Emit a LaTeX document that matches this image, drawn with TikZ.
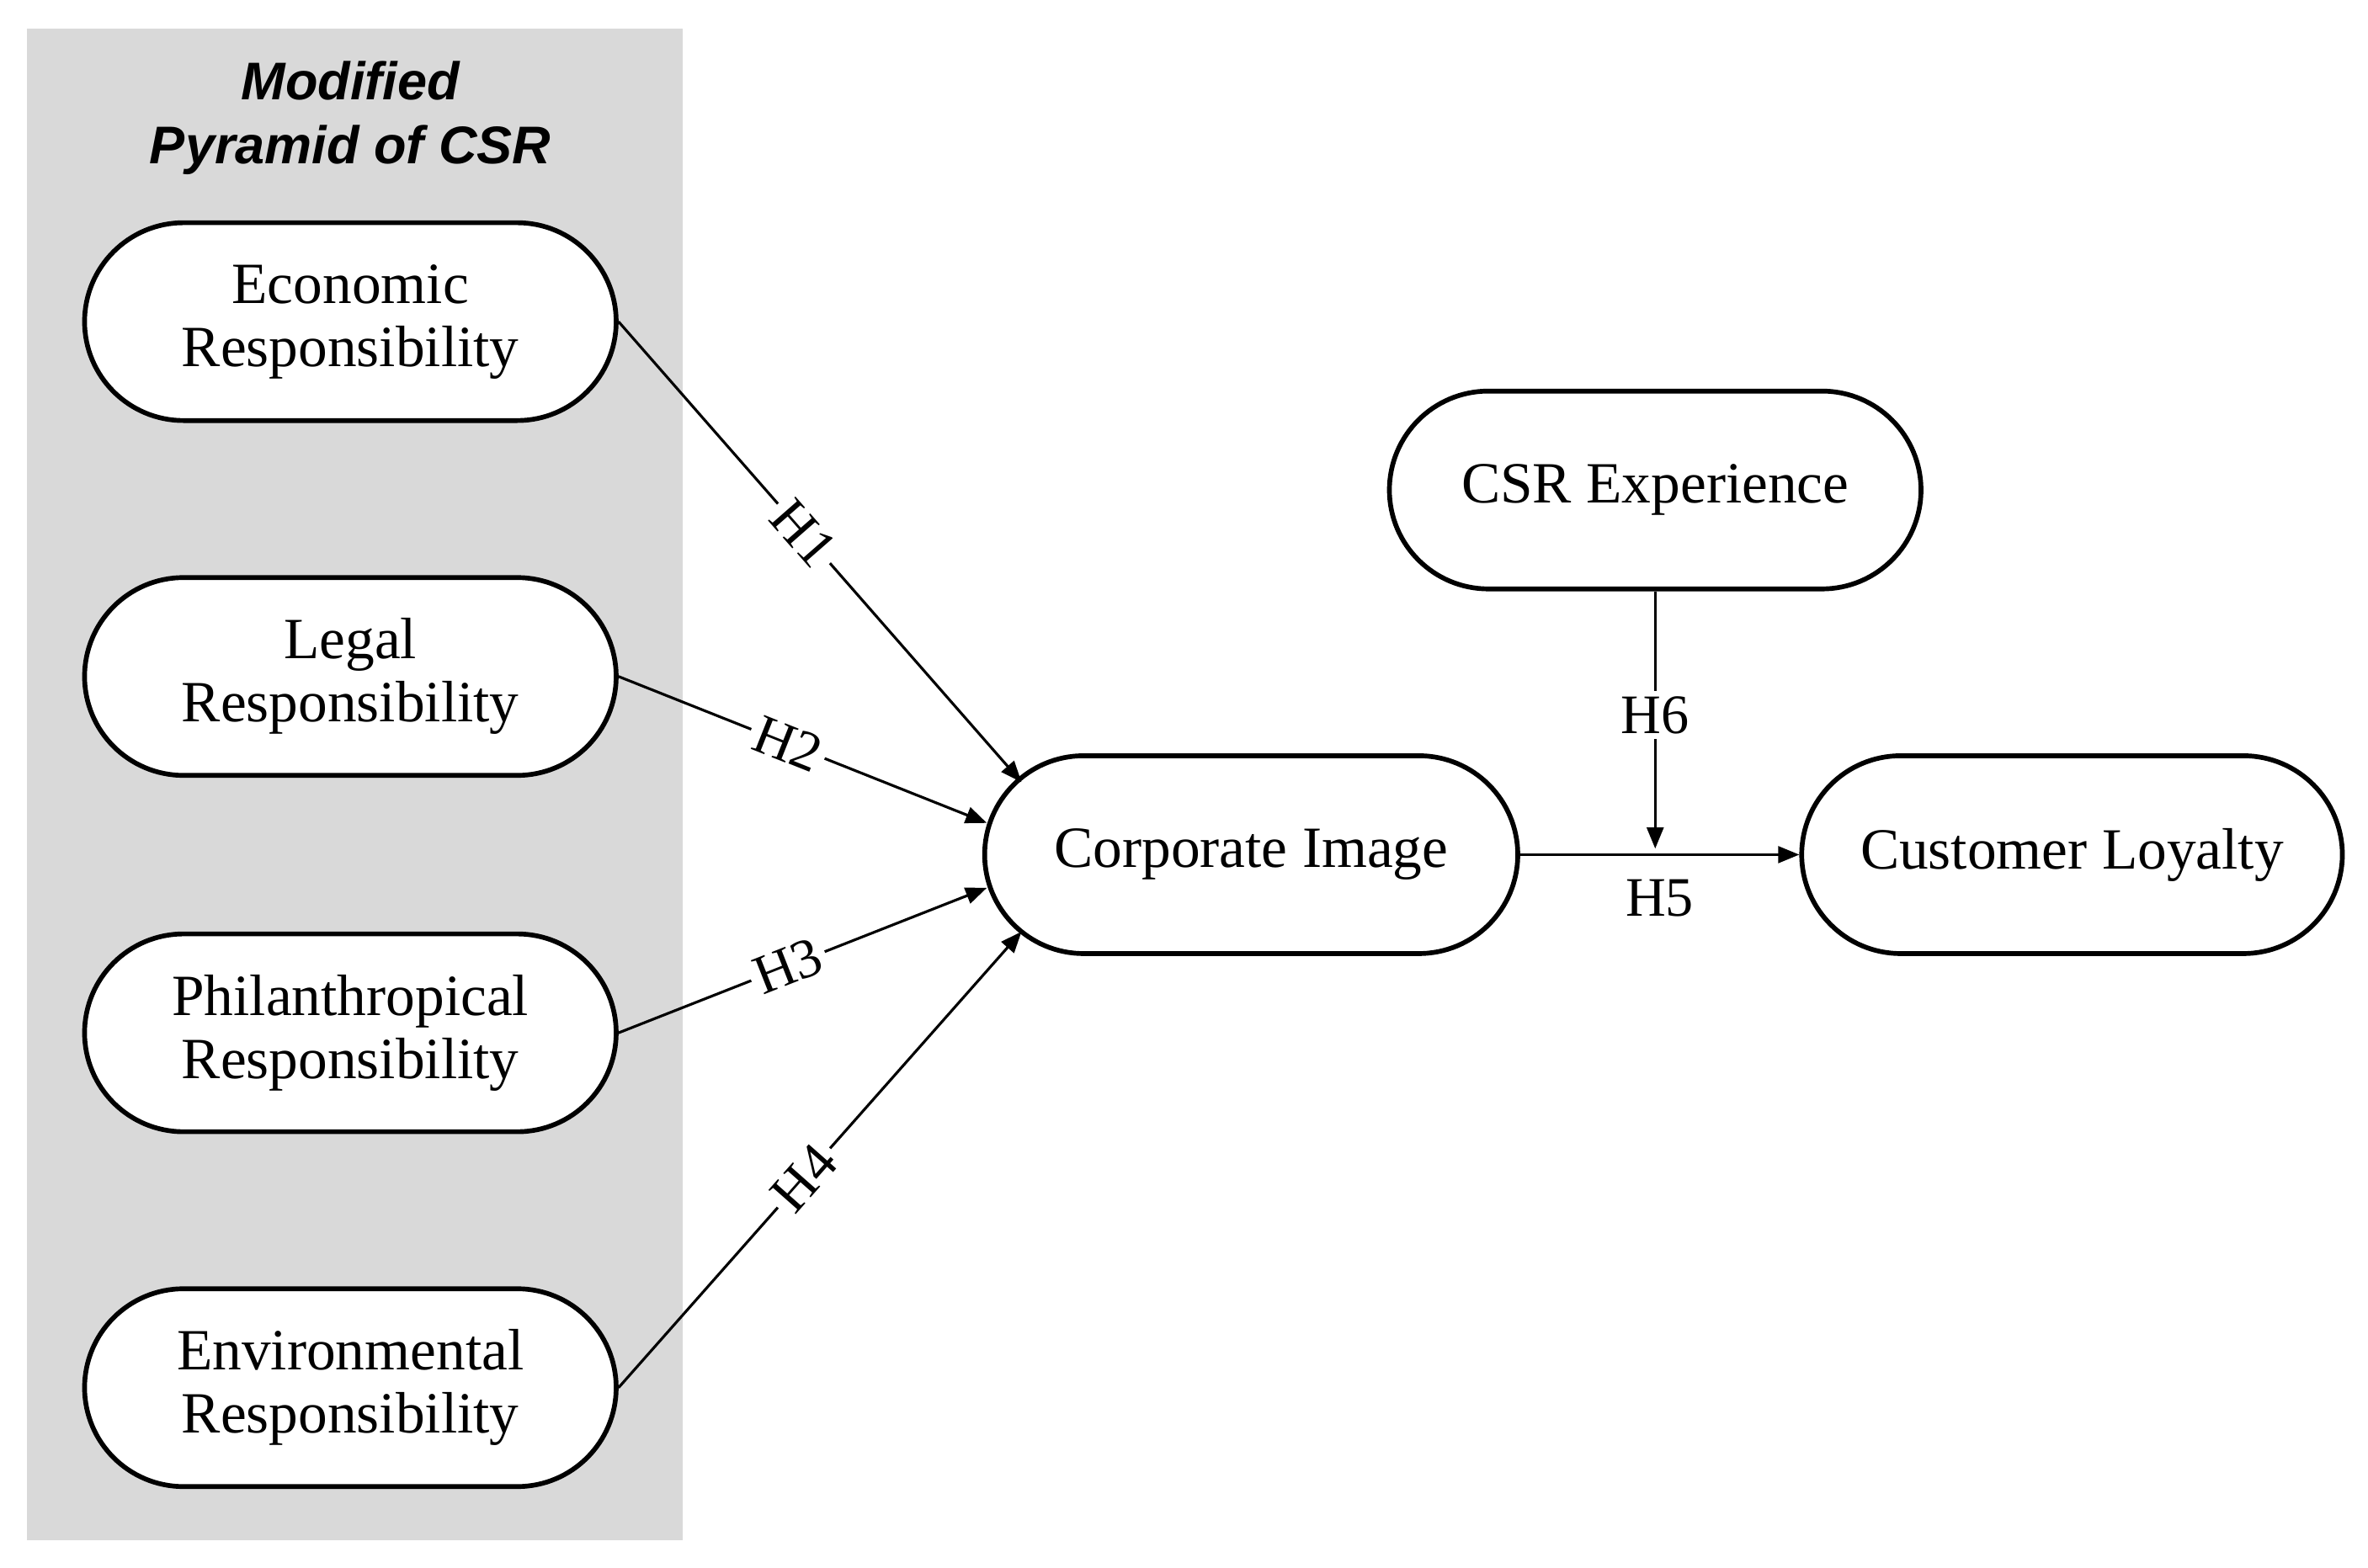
\documentclass[tikz,border=0pt]{standalone}
\usepackage{fontspec}
\setmainfont{Liberation Serif}
\setsansfont{Liberation Sans}
\usetikzlibrary{shapes.misc,arrows.meta,positioning,calc}
\definecolor{panelgray}{RGB}{217,217,217}
\tikzset{construct/.style={rounded rectangle,draw,line width=0.9pt,fill=white,
   minimum width=3.52cm,minimum height=1.31cm,inner sep=0pt,align=center,
   font=\fontsize{11}{11.9}\selectfont},
 path arrow/.style={-{Triangle[length=1.4mm,width=1.1mm]},line width=0.5pt},
 hyp/.style={fill=white,inner sep=1pt,font=\fontsize{10.5}{12.4}\selectfont},
 }

\begin{document}
\begin{tikzpicture}
        \useasboundingbox (0,0) rectangle (15.68,-10.38);
        % grey panel with the four responsibilities
        \fill[panelgray] (0.18,-0.19) rectangle (4.52,-10.20);
        \node[align=center,font=\fontsize{10}{12}\selectfont\sffamily\bfseries\itshape] (title) at (2.32,-0.78) {Modified\\Pyramid of CSR};
        \foreach \name/\y/\txt in {eco/2.13/Economic, leg/4.48/Legal, phi/6.84/Philanthropical, env/9.19/Environmental} {
            \node[construct] (\name) at (2.32,-\y) {\txt\\Responsibility};
        }
        \node[construct,minimum width=3.53cm] (ci) at (8.285,-5.66) {Corporate Image};
        \node[construct] (csr) at (10.96,-3.245) {CSR Experience};
        \node[construct,minimum width=3.58cm] (cl) at (13.72,-5.66) {Customer Loyalty};
        % hypotheses H1--H4
        \foreach \src/\dx/\dy/\lab in {eco/0.26/0.48/H1, leg/0.03/0.21/H2, phi/0.03/-0.22/H3, env/0.26/-0.51/H4} {
            \draw[path arrow] (\src.east) -- node[hyp,sloped,pos=0.46] {\lab} ($(ci.west)+(\dx,\dy)$);
        }
        \draw[path arrow] (ci.east) -- node[hyp,below=0.12cm] (h5) {H5} (cl.west);
        \coordinate (h5mid) at (csr.south |- ci.east);
        \draw[path arrow,shorten >=0.4mm] (csr.south) -- node[hyp,pos=0.47] {H6} (h5mid);
    \end{tikzpicture}
\end{document}
